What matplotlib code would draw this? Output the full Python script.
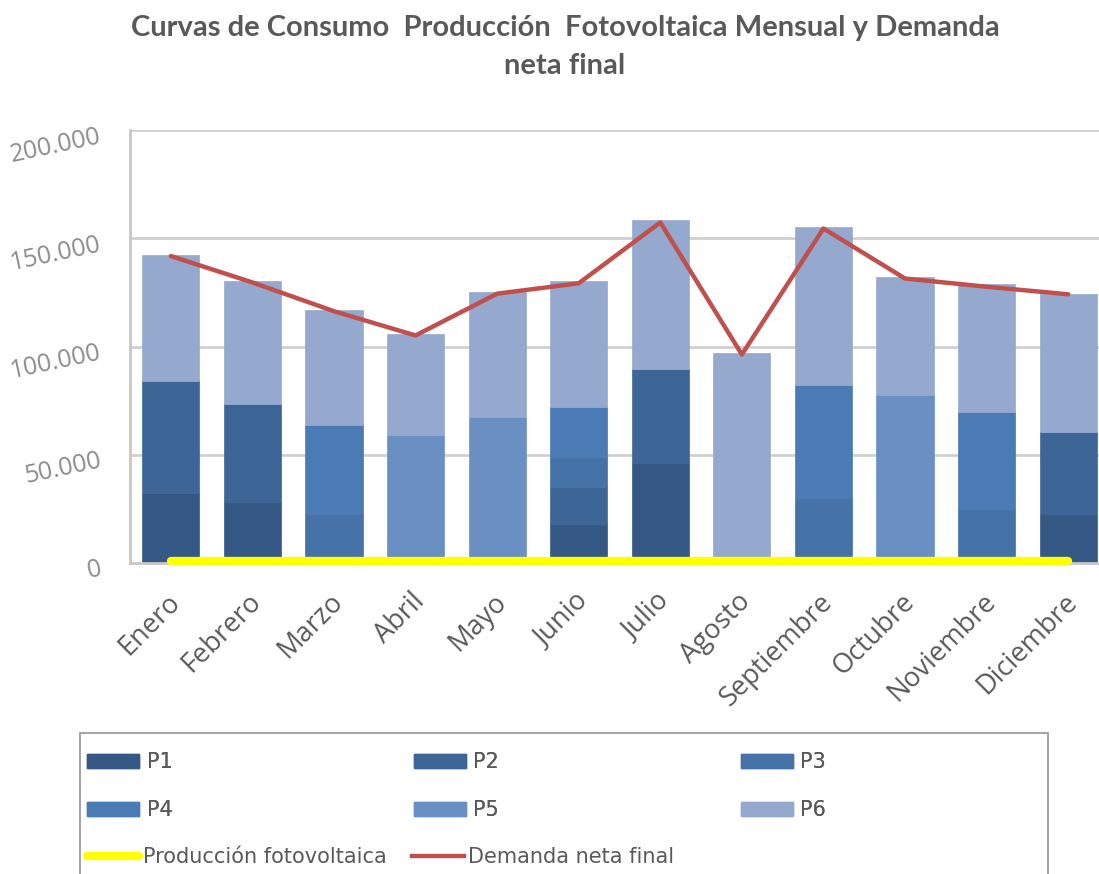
import matplotlib
matplotlib.use("Agg")
import matplotlib.pyplot as plt
import matplotlib.transforms as mtransforms
from matplotlib.patches import Patch, Rectangle
from matplotlib.lines import Line2D
from matplotlib.ticker import FuncFormatter
import numpy as np

months = ["Enero", "Febrero", "Marzo", "Abril", "Mayo", "Junio", "Julio",
          "Agosto", "Septiembre", "Octubre", "Noviembre", "Diciembre"]

p1 = [32300, 28200, 0, 0, 0, 18100, 46100, 0, 0, 0, 0, 22800]
p2 = [51600, 45100, 0, 0, 0, 17200, 43300, 0, 0, 0, 0, 37800]
p3 = [0, 0, 22800, 0, 0, 13500, 0, 0, 30000, 0, 25000, 0]
p4 = [0, 0, 40900, 1500, 0, 23300, 0, 0, 52100, 2000, 44800, 0]
p5 = [0, 0, 0, 57400, 67300, 0, 0, 0, 0, 75500, 0, 0]
p6 = [58200, 56900, 53000, 47000, 58000, 58100, 68900, 97100, 72900, 54500, 59200, 63800]
produccion = [700] * 12
demanda = [141800, 129600, 116300, 105100, 124400, 129200, 157300, 96300,
           154500, 131400, 127600, 124100]

series = [("P1", p1, "#365885"), ("P2", p2, "#3d6697"), ("P3", p3, "#4572a7"),
          ("P4", p4, "#4a7bb4"), ("P5", p5, "#6a8fc2"), ("P6", p6, "#95a9cf")]

W, H = 1099, 874
fig = plt.figure(figsize=(W / 100, H / 100), dpi=100)
ax = fig.add_axes([130 / W, 1 - 563 / H, (1109 - 130) / W, (563 - 130) / H])

x = np.arange(len(months))
bottom = np.zeros(len(months))
handles = {}
for name, vals, col in series:
    vals = np.array(vals, dtype=float)
    ax.bar(x, vals, 0.7, bottom=bottom, color=col, edgecolor=col, lw=0.5, zorder=2)
    bottom += vals
    handles[name] = Patch(facecolor=col, edgecolor=col)

ax.plot(x, produccion, color="#ffff00", lw=6, solid_capstyle="round", zorder=4, clip_on=False)
ax.plot(x, demanda, color="#c0504d", lw=3.2, solid_capstyle="round", zorder=5)

ax.set_xlim(-0.5, 11.5)
ax.set_ylim(0, 200000)
ax.set_yticks([0, 50000, 100000, 150000, 200000])
ax.yaxis.set_major_formatter(FuncFormatter(lambda v, p: f"{int(v):,}".replace(",", ".")))
ax.grid(axis="y", color="#d0d0d0", lw=2, zorder=0)
ax.set_axisbelow(True)
for s in ["top", "right"]:
    ax.spines[s].set_visible(False)
ax.spines["left"].set_color("#c8c8c8")
ax.spines["left"].set_linewidth(2)
ax.spines["bottom"].set_color("#c8c8c8")
ax.spines["bottom"].set_linewidth(2)
ax.tick_params(length=0)
ax.tick_params(axis="y", pad=26)

tick_font = "Open Sans"
ax.set_xticks(x)
ax.set_xticklabels(months, rotation=45, ha="right", va="center", rotation_mode="anchor",
                   fontsize=19.5, color="#595959", family=tick_font)
off = mtransforms.ScaledTranslation(5 / 100, -30 / 100, fig.dpi_scale_trans)
for lab in ax.get_xticklabels():
    lab.set_transform(lab.get_transform() + off)
yoff = mtransforms.ScaledTranslation(7 / 100, -6 / 100, fig.dpi_scale_trans)
for lab in ax.get_yticklabels():
    lab.set_rotation(12)
    lab.set_rotation_mode("anchor")
    lab.set_ha("right")
    lab.set_va("center")
    lab.set_fontsize(18)
    lab.set_color("#8c8c8c")
    lab.set_family(tick_font)
    lab.set_transform(lab.get_transform() + yoff)

title_font = ["Lato", "DejaVu Sans"]
fig.text(565 / W, 1 - 28 / H, "Curvas de Consumo  Producción  Fotovoltaica Mensual y Demanda",
         ha="center", va="center", fontsize=21, fontweight="bold", color="#595959",
         family=title_font)
fig.text(565 / W, 1 - 66 / H, "neta final",
         ha="center", va="center", fontsize=21, fontweight="bold", color="#595959",
         family=title_font)

# legend frame
fig.patches.append(Rectangle((80 / W, -0.01), (1048 - 80) / W, 1 - 733 / H + 0.01,
                             transform=fig.transFigure, fill=False,
                             edgecolor="#a6a6a6", lw=1.5))

leg_font = {"family": ["DejaVu Sans"], "size": 15}
order = ["P1", "P4", "P2", "P5", "P3", "P6"]
leg1 = fig.legend([handles[n] for n in order], order, ncol=3, frameon=False,
                  loc="upper left", bbox_to_anchor=(83 / W, 1 - 748 / H),
                  prop=leg_font, handlelength=2.5, handleheight=0.65,
                  handletextpad=0.35, columnspacing=11.6, labelspacing=1.35,
                  borderaxespad=0, borderpad=0.2, labelcolor="#595959")
line_handles = [Line2D([], [], color="#ffff00", lw=6, solid_capstyle="round"),
                Line2D([], [], color="#c0504d", lw=3.2)]
leg2 = fig.legend(line_handles, ["Producción fotovoltaica", "Demanda neta final"], ncol=2,
                  frameon=False, loc="center left", bbox_to_anchor=(83 / W, 1 - 857 / H),
                  prop=leg_font, handlelength=2.5, handletextpad=0.2,
                  columnspacing=1.2, borderaxespad=0, borderpad=0.2, labelcolor="#595959")
fig.add_artist(leg1)

fig.savefig("out.png", dpi=100)
